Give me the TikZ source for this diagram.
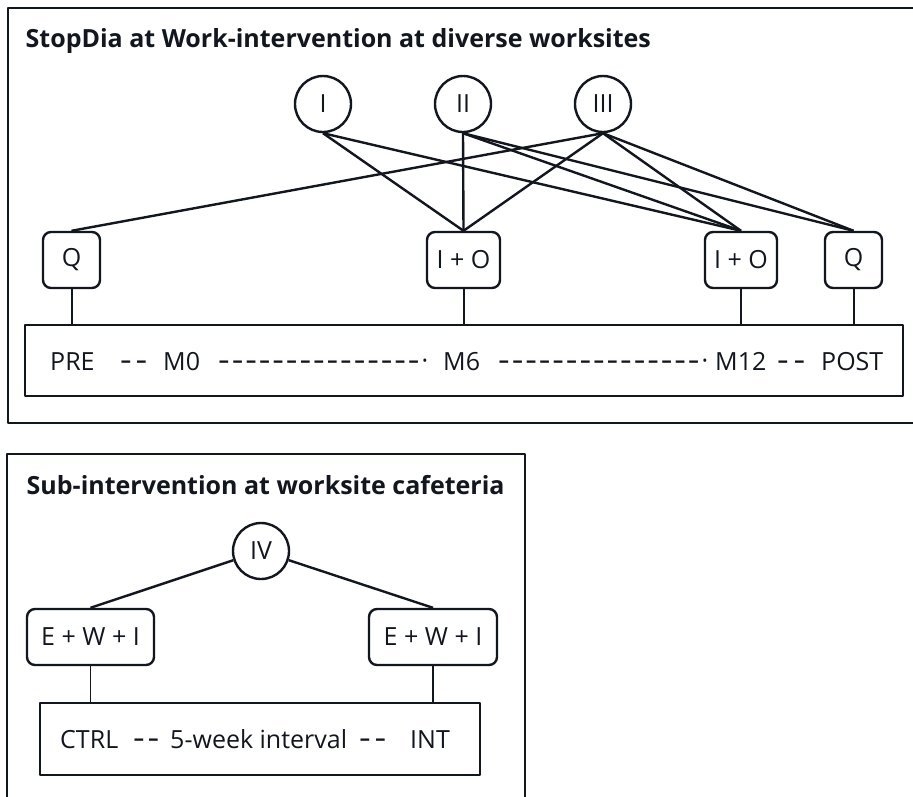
\documentclass[tikz,border=0pt]{standalone}
\usepackage{graphicx}
\usepackage{fontspec}
\setmainfont{Open Sans}
\definecolor{inkc}{RGB}{18,22,30}
% a slightly longer and heavier hyphen for the timeline rules
\newcommand\tdash{\scalebox{1.45}[1.25]{-}}
\newcommand\shortrun[1]{\makebox[#1]{\tdash\hfill\tdash}}
\newcommand\longrun[1]{\makebox[#1]{\tdash\hfill\tdash\hfill\tdash\hfill\tdash\hfill\tdash\hfill
  \tdash\hfill\tdash\hfill\tdash\hfill\tdash\hfill\tdash\hfill
  \tdash\hfill\tdash\hfill\tdash\hfill\tdash\hfill\tdash\hfill\raisebox{0.2pt}{·}}}
\begin{document}
\begin{tikzpicture}[x=1pt,y=-1pt,line join=round,
  every node/.style={text=inkc,font=\fontsize{25}{30}\selectfont},
  frame/.style={draw=inkc,line width=2.8pt,inner sep=0pt},
  heading/.style={anchor=base west,inner sep=0pt,font=\fontsize{25}{30}\selectfont\bfseries},
  stage/.style={circle,draw=inkc,line width=2.4pt,minimum size=56pt,inner sep=0pt},
  meas/.style={draw=inkc,rounded corners=8pt,line width=2.4pt,inner sep=0pt,minimum height=56pt},
  timeline/.style={draw=inkc,line width=2.4pt,inner sep=0pt},
  lbl/.style={anchor=base west,inner sep=0pt},
  link/.style={draw=inkc,line width=2.4pt},
  stem/.style={draw=inkc,line width=2pt},
  thinstem/.style={draw=inkc,line width=1.3pt}
]
\clip (0,0) rectangle (913,796);
\fill[white] (0,0) rectangle (913,796);

% ---------- main intervention ----------
\node[frame,minimum width=916pt,minimum height=415pt] (mainframe) at (466,215.5) {};
\node[heading] (maintitle) at (25.5,47) {StopDia at Work-intervention at diverse worksites};

\node[stage] (I)   at (323,104) {I};
\node[stage] (II)  at (463,104) {II};
\node[stage] (III) at (603,104) {III};

\node[meas,minimum width=57pt] (Ql)  at (71.5,260) {Q};
\node[meas,minimum width=73pt] (IOm) at (463.5,260) {I + O};
\node[meas,minimum width=72pt] (IOr) at (741,260) {I + O};
\node[meas,minimum width=57pt] (Qr)  at (853.5,260) {Q};

\node[timeline,minimum width=878pt,minimum height=71pt] (tl) at (464,360.5) {};
\node[lbl] (pre)  at (50,370)  {PRE};
\node[lbl] (d1)   at (120,370) {\shortrun{27pt}};
\node[lbl] (m0)   at (163,370) {M0};
\node[lbl] (d2)   at (218,370) {\longrun{210pt}};
\node[lbl] (m6)   at (443,370) {M6};
\node[lbl] (d3)   at (498,370) {\longrun{210pt}};
\node[lbl] (m12)  at (715,370) {M12};
\node[lbl] (d4)   at (777,370) {\shortrun{28pt}};
\node[lbl] (post) at (821,370) {POST};

% stage links
\foreach \s/\t in {I/IOm,I/IOr,II/IOm,II/IOr,II/Qr,III/Ql,III/IOm,III/IOr,III/Qr}
  \path[link] (\s.south) -- (\t.north);

% stems down to the timeline
\foreach \b in {Ql,IOm,IOr,Qr}
  \path[stem] (\b.south) -- (\b.south |- tl.north);

% ---------- cafeteria sub-intervention ----------
\node[frame,minimum width=518pt,minimum height=350pt] (subframe) at (266,629) {};
\node[heading] (subtitle) at (26.5,494) {Sub-intervention at worksite cafeteria};

\node[stage] (IV) at (261,551) {IV};
\node[meas,minimum width=127pt] (ewl) at (90.5,637) {E + W + I};
\node[meas,minimum width=128pt] (ewr) at (433,637) {E + W + I};

\node[timeline,minimum width=440pt,minimum height=72pt] (ctl) at (260,739) {};
\node[lbl] (ctrl) at (60,748)  {CTRL};
\node[lbl] (d5)   at (133,748) {\shortrun{26pt}};
\node[lbl] (wk)   at (170,748) {5-week interval};
\node[lbl] (d6)   at (359,748) {\shortrun{27pt}};
\node[lbl] (int)  at (410,748) {INT};

\path[link] (IV) -- (ewl.north);
\path[link] (IV) -- (ewr.north);
\path[thinstem] (ewl.south) -- (ewl.south |- ctl.north);
\path[thinstem] (ewr.south) -- (ewr.south |- ctl.north);
\end{tikzpicture}
\end{document}
